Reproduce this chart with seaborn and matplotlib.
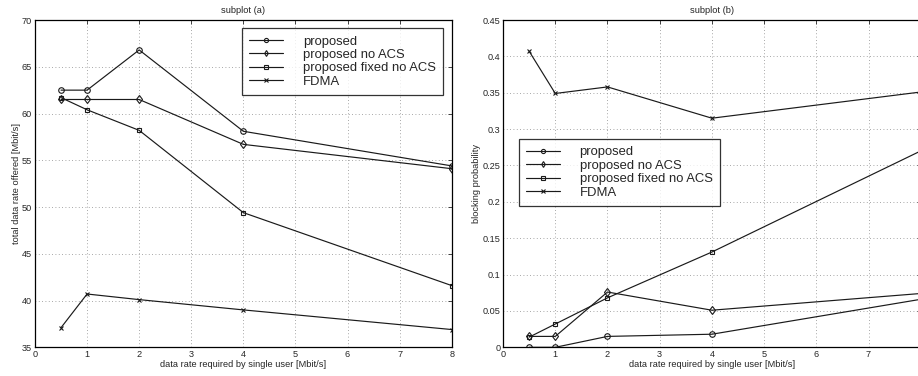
import matplotlib
matplotlib.use("Agg")
import matplotlib.pyplot as plt
import seaborn as sns
import pandas as pd

x_rate = [0.5, 1, 2, 4, 8]
series_names = ["proposed", "proposed no ACS", "proposed fixed no ACS", "FDMA"]

rate_proposed = [62.5, 62.5, 66.8, 58.1, 54.4]
rate_no_acs = [61.5, 61.5, 61.5, 56.7, 54.1]
rate_fixed = [61.7, 60.4, 58.2, 49.4, 41.6]
rate_fdma = [37.1, 40.7, 40.1, 39.0, 36.9]

block_proposed = [0.000, 0.000, 0.015, 0.018, 0.066]
block_no_acs = [0.015, 0.015, 0.076, 0.051, 0.074]
block_fixed = [0.014, 0.032, 0.068, 0.131, 0.270]
block_fdma = [0.407, 0.349, 0.358, 0.315, 0.351]

xticks = [0, 1, 2, 3, 4, 5, 6, 7, 8]
yticks_a = [35, 40, 45, 50, 55, 60, 65, 70]
yticks_b = [0, 0.05, 0.1, 0.15, 0.2, 0.25, 0.3, 0.35, 0.4, 0.45]
ytick_labels_b = ["0", "0.05", "0.1", "0.15", "0.2", "0.25", "0.3", "0.35", "0.4", "0.45"]

sns.set_style("white")
plt.rcParams['font.family'] = ['Liberation Sans', 'DejaVu Sans']

fig = plt.figure(figsize=(9.18, 3.76), dpi=100)
ax1 = fig.add_axes([0.0381, 0.0763, 0.454, 0.8705])
ax2 = fig.add_axes([0.548, 0.0763, 0.455, 0.8705])

markers = ["o", "d", "s", "x"]
msizes = [4, 4.5, 3.5, 3.5]

for ax, vals in [(ax1, [rate_proposed, rate_no_acs, rate_fixed, rate_fdma]),
                 (ax2, [block_proposed, block_no_acs, block_fixed, block_fdma])]:
    for name, v, m, ms in zip(series_names, vals, markers, msizes):
        df = pd.DataFrame({"x": x_rate, "y": v})
        sns.lineplot(data=df, x="x", y="y", ax=ax, label=name, color="#1a1a1a",
                     marker=m, markersize=ms, linewidth=0.85,
                     markerfacecolor="none", markeredgecolor="#1a1a1a",
                     markeredgewidth=0.8)
    ax.set_xlim(0, 8)
    ax.set_xticks(xticks)
    ax.grid(True, linestyle=(0, (1, 3)), color="#8a8a8a", linewidth=0.6)
    for s in ax.spines.values():
        s.set_color("black")
        s.set_linewidth(0.9)
    ax.tick_params(labelsize=6.6, length=3, direction="in", pad=2,
                   top=True, right=True, width=0.6)
    ax.set_xlabel("data rate required by single user [Mbit/s]", fontsize=6.7, labelpad=1)

ax1.set_ylim(35, 70)
ax1.set_yticks(yticks_a)
ax1.set_ylabel("total data rate offered [Mbit/s]", fontsize=6.7, labelpad=1)
ax1.set_title("subplot (a)", fontsize=6.7, pad=5)

ax2.set_ylim(0, 0.45)
ax2.set_yticks(yticks_b)
ax2.set_yticklabels(ytick_labels_b)
ax2.set_ylabel("blocking probability", fontsize=6.7, labelpad=1)
ax2.set_title("subplot (b)", fontsize=6.7, pad=5)

for ax, loc in [(ax1, (0.497, 0.975)), (ax2, (0.038, 0.636))]:
    h, l = ax.get_legend_handles_labels()
    leg = ax.legend(h, l, loc="upper left", bbox_to_anchor=loc, fontsize=9.4,
                    frameon=True, fancybox=False, borderpad=0.55,
                    handlelength=2.6, handletextpad=1.5, labelspacing=0.1,
                    borderaxespad=0)
    leg.get_frame().set_edgecolor("black")
    leg.get_frame().set_linewidth(0.9)
    for ln in leg.get_lines():
        ln.set_markersize(3)

fig.savefig("out.png", dpi=100)
